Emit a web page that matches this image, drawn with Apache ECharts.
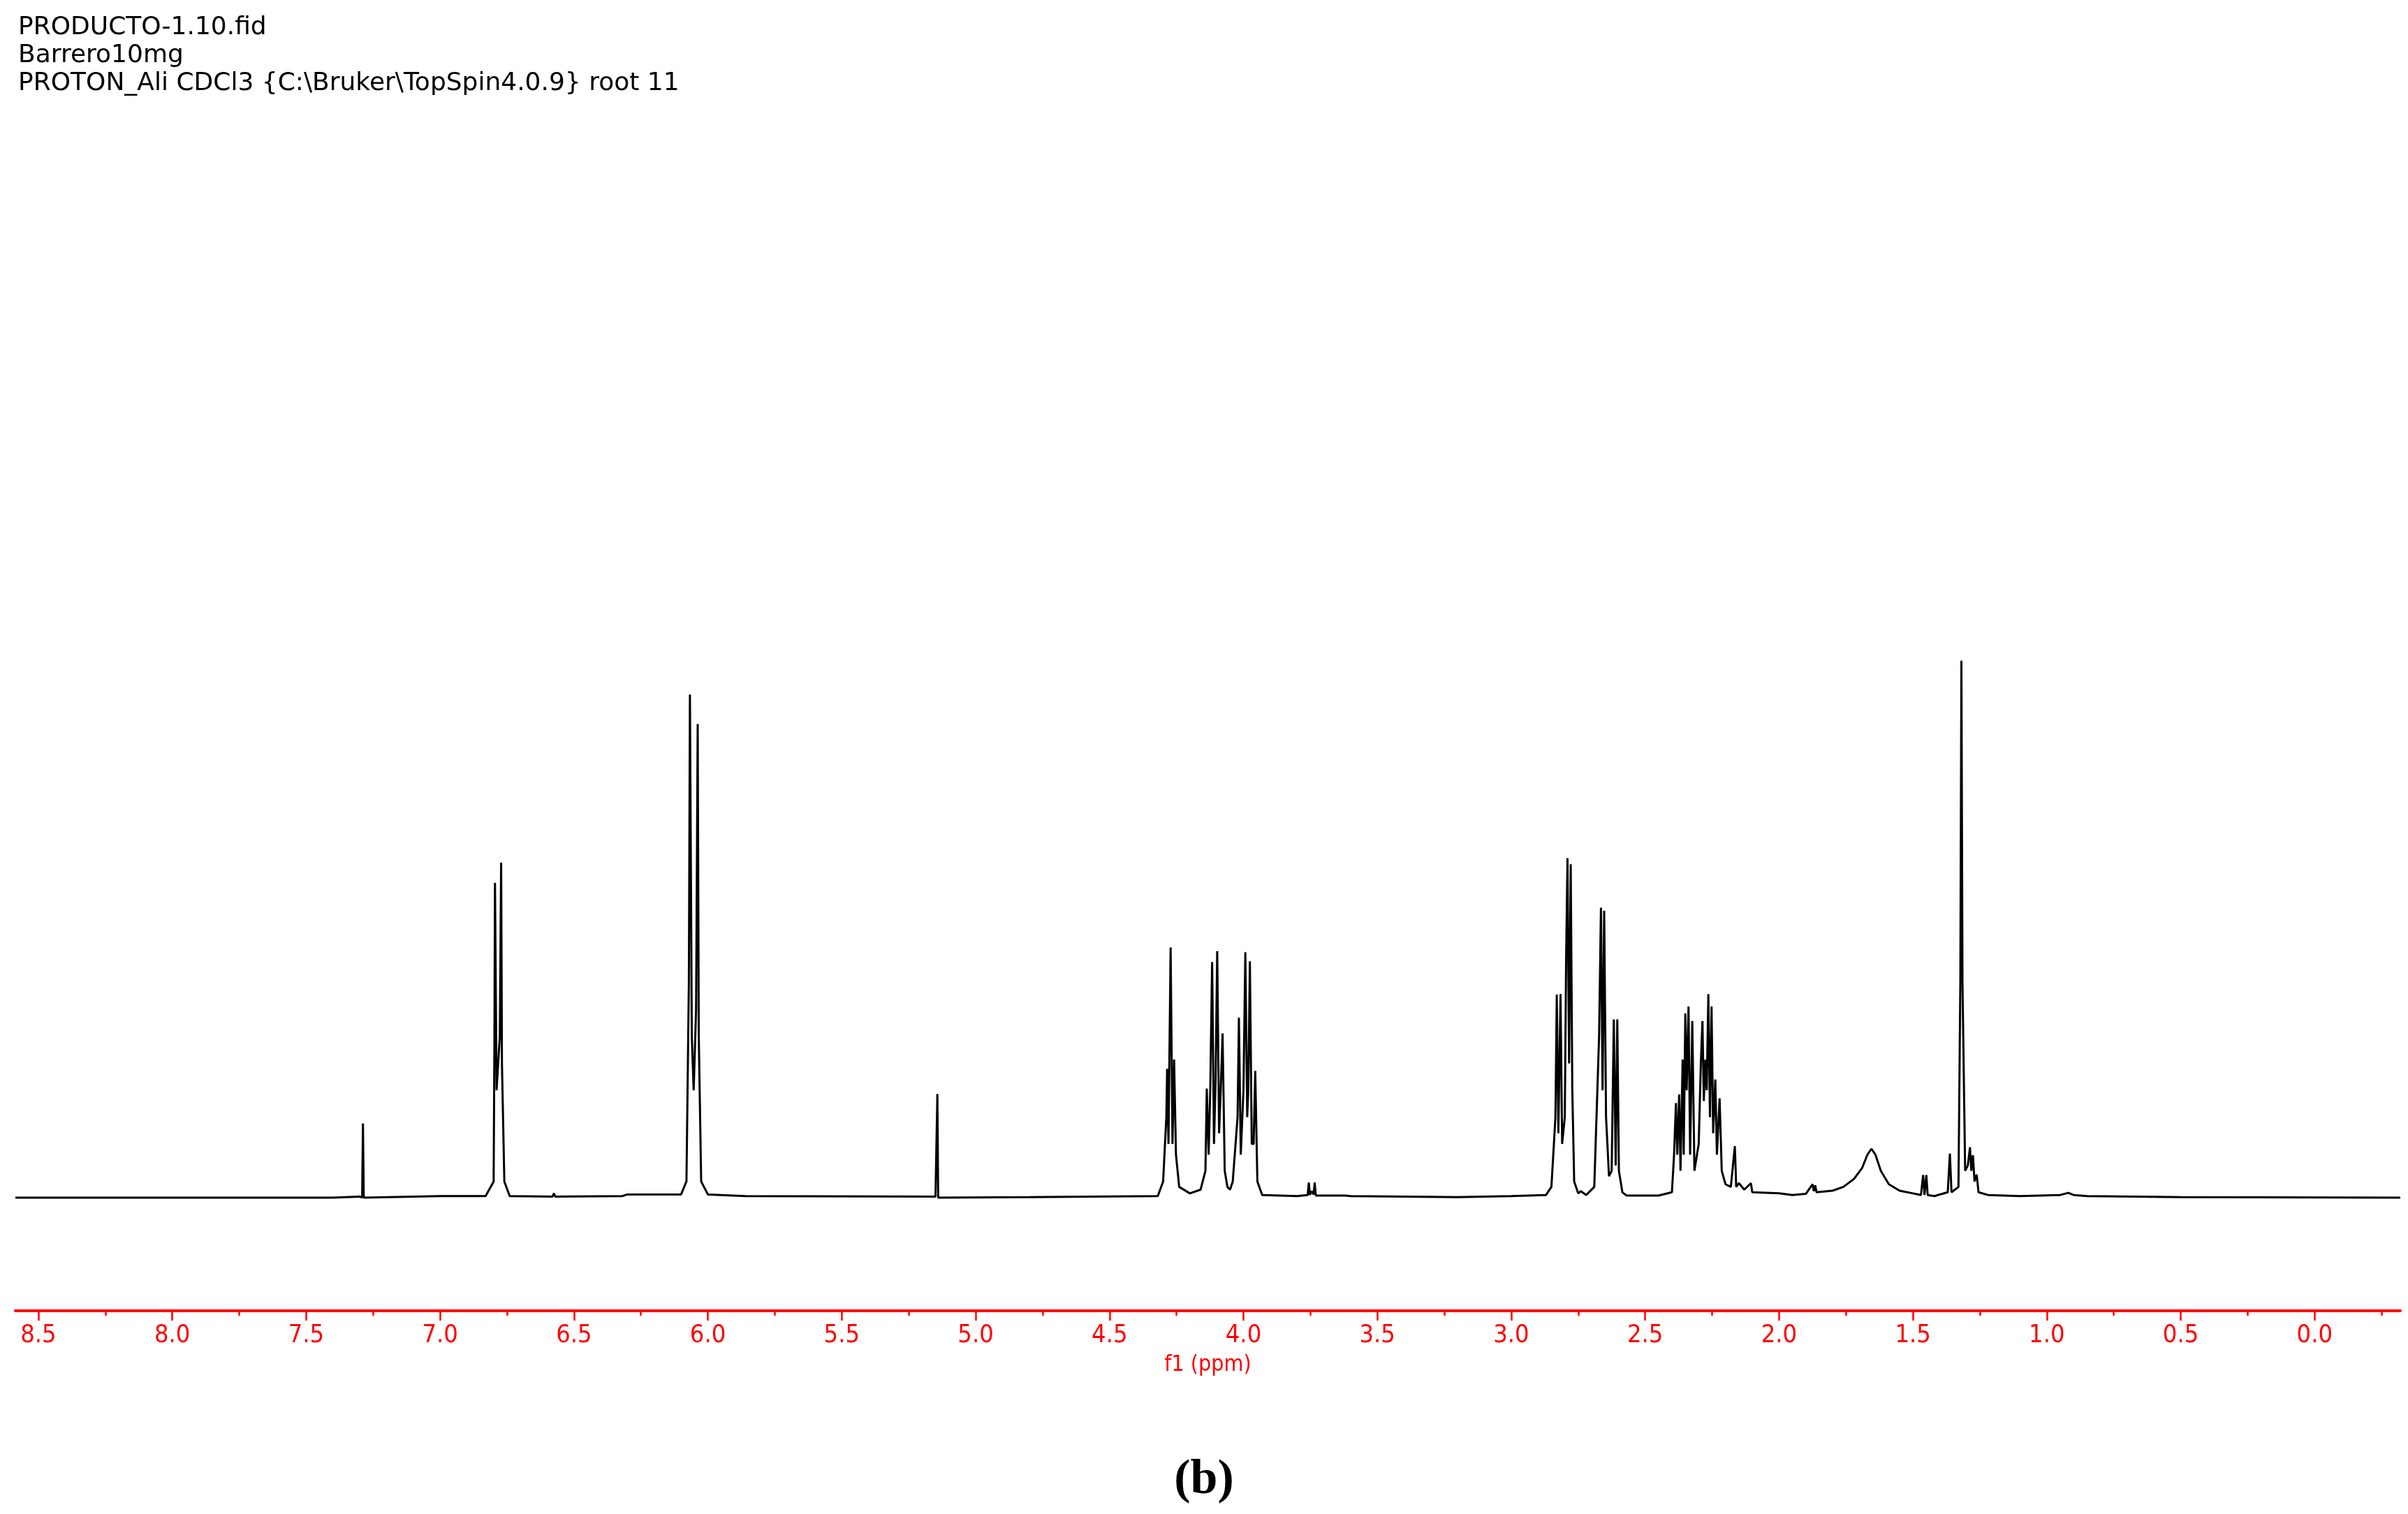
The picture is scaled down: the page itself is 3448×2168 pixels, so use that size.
<!DOCTYPE html>
<html>
<head>
<meta charset="utf-8">
<script src="https://cdn.jsdelivr.net/npm/echarts@6/dist/echarts.min.js"></script>
<style>
  html, body { margin: 0; padding: 0; background: #fff; }
  #chart { width: 3448px; height: 2168px; }
</style>
</head>
<body>
<div id="chart"></div>
<script>
// header lines of the TopSpin plot
var headerLines = ['PRODUCTO-1.10.fid', 'Barrero10mg', 'PROTON_Ali CDCl3 {C:\\Bruker\\TopSpin4.0.9} root 11'];

// axis ticks (ppm)
var majorTicks = [8.5, 8.0, 7.5, 7.0, 6.5, 6.0, 5.5, 5.0, 4.5, 4.0, 3.5, 3.0, 2.5, 2.0, 1.5, 1.0, 0.5, 0.0];
var minorTicks = [8.25, 7.75, 7.25, 6.75, 6.25, 5.75, 5.25, 4.75, 4.25, 3.75, 3.25, 2.75, 2.25, 1.75, 1.25, 0.75, 0.25, -0.25];

// spectrum trace [ppm, intensity], tallest line = 100
var aromatic = [
    [8.586, 0], [7.40, 0], [7.30, 0.2], [7.291, 0], [7.288, 13.8], [7.285, 0], [7.0, 0.3],
    [6.83, 0.3], [6.80, 3], [6.797, 30], [6.795, 58.6], [6.789, 20], [6.783, 25], [6.777, 30],
    [6.772, 62.4], [6.769, 25], [6.76, 3], [6.74, 0.3], [6.58, 0.2], [6.575, 0.8], [6.57, 0.2],
    [6.32, 0.3], [6.30, 0.6], [6.10, 0.6], [6.08, 3], [6.071, 40], [6.067, 93.7], [6.060, 30],
    [6.053, 20], [6.044, 35], [6.038, 88.2], [6.034, 30], [6.025, 3], [6.0, 0.6], [5.86, 0.3],
    [5.15, 0.2], [5.146, 0], [5.143, 19.3], [5.140, 0], [4.8, 0.1]
];
var oxyRegion = [
    [4.32, 0.3], [4.30, 3], [4.288, 15], [4.285, 24], [4.280, 10], [4.272, 46.6], [4.265, 10],
    [4.259, 25.7], [4.252, 8], [4.24, 2], [4.20, 0.8], [4.16, 1.5], [4.142, 5], [4.137, 20.3],
    [4.130, 8], [4.124, 20], [4.117, 43.9], [4.110, 10], [4.104, 22], [4.098, 45.9], [4.091, 12],
    [4.085, 20], [4.078, 30.6], [4.070, 5], [4.06, 2], [4.05, 1.5], [4.040, 3], [4.022, 15],
    [4.017, 33.5], [4.010, 8], [4.000, 20], [3.993, 45.7], [3.986, 15], [3.982, 20], [3.976, 44],
    [3.969, 10], [3.962, 10], [3.956, 23.6], [3.948, 3], [3.93, 0.5], [3.80, 0.3], [3.760, 0.5],
    [3.756, 2.8], [3.752, 0.5], [3.745, 1.2], [3.738, 0.6], [3.734, 2.8], [3.730, 0.4],
    [3.62, 0.4], [3.60, 0.3], [3.2, 0.1]
];
var aliphatic = [
    [3.0, 0.3], [2.87, 0.5], [2.85, 2], [2.835, 15], [2.830, 37.8], [2.824, 12], [2.821, 12],
    [2.816, 37.9], [2.810, 10], [2.80, 15], [2.795, 45], [2.790, 63.2], [2.784, 25], [2.778, 62.1],
    [2.772, 20], [2.765, 3], [2.75, 0.8], [2.74, 1.2], [2.72, 0.5], [2.69, 2], [2.672, 30],
    [2.665, 54], [2.659, 20], [2.653, 53.4], [2.646, 15], [2.635, 4], [2.625, 5], [2.617, 33.2],
    [2.610, 6], [2.604, 33.2], [2.598, 5], [2.585, 1], [2.57, 0.4], [2.45, 0.4], [2.40, 1],
    [2.392, 8], [2.385, 17.6], [2.380, 8], [2.373, 19.2], [2.368, 5], [2.360, 25.7], [2.356, 8],
    [2.350, 34.3], [2.345, 20], [2.338, 35.6], [2.332, 8], [2.324, 32.9], [2.316, 5], [2.300, 10],
    [2.292, 25], [2.286, 32.9], [2.281, 18], [2.275, 25.7], [2.270, 20], [2.264, 37.9], [2.258, 15],
    [2.252, 35.6], [2.246, 12], [2.238, 22], [2.232, 8], [2.222, 18.5], [2.214, 5], [2.20, 2.5],
    [2.18, 2], [2.165, 9.6], [2.160, 2], [2.150, 2.7], [2.13, 1.5], [2.105, 2.7], [2.10, 1], [2.0, 0.8]
];
var upfield = [
    [1.95, 0.5], [1.90, 0.7], [1.875, 2.5], [1.870, 1.2], [1.865, 2.3], [1.86, 1], [1.80, 1.3],
    [1.76, 2], [1.72, 3.5], [1.69, 5.5], [1.67, 8], [1.655, 9.1], [1.64, 8], [1.62, 5], [1.59, 2.5],
    [1.55, 1.3], [1.50, 0.8], [1.47, 0.5], [1.462, 4.2], [1.457, 0.5], [1.450, 4.2], [1.445, 0.5],
    [1.42, 0.3], [1.37, 1], [1.362, 8.2], [1.356, 1], [1.33, 2], [1.323, 40], [1.319, 100],
    [1.315, 40], [1.305, 5], [1.295, 6], [1.287, 9.4], [1.282, 5], [1.276, 7.9], [1.270, 3],
    [1.262, 4.3], [1.255, 1], [1.22, 0.5], [1.1, 0.3], [0.95, 0.5], [0.92, 0.9], [0.90, 0.5],
    [0.85, 0.3], [0.5, 0.1], [-0.32, 0]
];

var spectrum = aromatic.concat(oxyRegion, aliphatic, upfield);

var chart = echarts.init(document.getElementById('chart'));
var red = '#ff0000';
var condFont = 'DejaVu Sans Condensed, sans-serif';

var option = {
    animation: false,
    backgroundColor: '#fff',
    grid: { left: 22, right: 11, top: 946, bottom: 453 },
    xAxis: [{
        type: 'value', inverse: true, min: -0.32, max: 8.586, offset: 162,
        position: 'bottom',
        axisLine: { onZero: false, lineStyle: { color: red, width: 4 } },
        axisTick: { inside: false, length: 14, lineStyle: { color: red, width: 2.5 }, customValues: majorTicks },
        axisLabel: {
            color: red, fontSize: 36, fontFamily: condFont, margin: 18,
            customValues: majorTicks,
            formatter: function (v) { return v.toFixed(1); }
        },
        splitLine: { show: false },
        name: 'f1 (ppm)', nameLocation: 'middle', nameGap: 62,
        nameTextStyle: { color: red, fontSize: 32, fontFamily: condFont }
    }, {
        type: 'value', inverse: true, min: -0.32, max: 8.586, offset: 162,
        position: 'bottom',
        axisLine: { show: false, onZero: false },
        axisTick: { length: 7, lineStyle: { color: red, width: 2.5 }, customValues: minorTicks },
        axisLabel: { show: false },
        splitLine: { show: false }
    }],
    yAxis: { type: 'value', min: 0, max: 100, show: false },
    series: [{
        type: 'line', data: spectrum, xAxisIndex: 0, showSymbol: false, symbol: 'none',
        clip: false, lineStyle: { color: '#000', width: 3 }
    }],
    graphic: [
        {
            type: 'text', left: 26, top: 20,
            style: { text: headerLines.join('\n'), fill: '#000', fontSize: 36, lineHeight: 40,
                     fontFamily: 'DejaVu Sans, sans-serif' }
        },
        {
            type: 'text', left: 'center', top: 2085,
            style: { text: '(b)', fill: '#000', fontSize: 70, fontWeight: 'bold',
                     fontFamily: 'Liberation Serif, serif' }
        }
    ]
};
chart.setOption(option);
</script>
</body>
</html>
